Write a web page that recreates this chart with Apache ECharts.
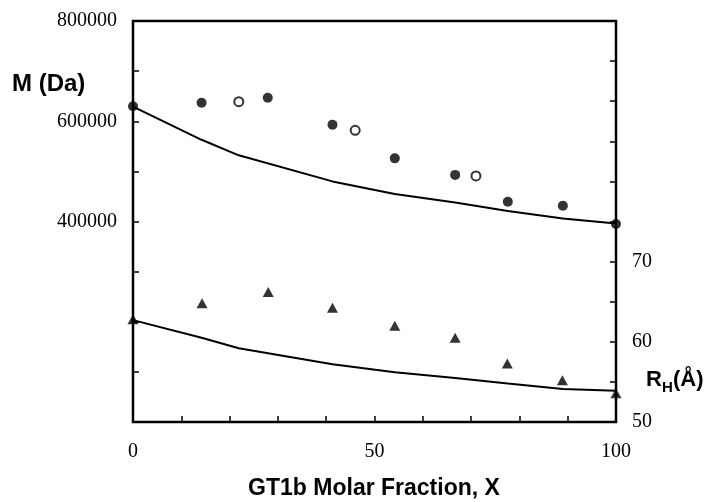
<!DOCTYPE html>
<html>
<head>
<meta charset="utf-8">
<script src="https://cdn.jsdelivr.net/npm/echarts@6/dist/echarts.min.js"></script>
<style>html,body{margin:0;padding:0;background:#fff;}#c{width:712px;height:502px;}</style>
</head>
<body>
<div id="c"></div>
<script>
// Molecular mass M (Da): filled circles
const xMFilled = [0, 14.2, 27.9, 41.3, 54.2, 66.7, 77.6, 89.0, 100];
const mFilled = [630000, 637000, 647000, 593000, 526000, 493000, 439500, 431500, 395000];
// Molecular mass M (Da): open circles
const xMOpen = [21.9, 46.0, 71.0];
const mOpen = [639000, 582000, 491000];
// M curve
const xCurve = [0, 14.2, 21.9, 41.3, 54.2, 66.7, 77.6, 89.0, 100];
const mCurve = [629000, 563000, 532000, 480000, 455000, 438000, 421000, 406000, 396000];
// Hydrodynamic radius RH (Å): triangles
const xRh = [0, 14.3, 28.0, 41.3, 54.2, 66.7, 77.5, 88.9, 100];
const rhVals = [62.8, 64.8, 66.2, 64.25, 62.0, 60.5, 57.3, 55.2, 53.6];
// RH curve
const rhCurve = [62.7, 60.5, 59.2, 57.2, 56.2, 55.5, 54.8, 54.1, 53.9];
// tick labels shown
const xTickLabels = [0, 50, 100];
const leftTickLabels = [400000, 600000, 800000];
const rightTickLabels = [50, 60, 70];

const pairs = (xs, ys) => xs.map((x, i) => [x, ys[i]]);
const serif = 'Liberation Serif';
const sans = 'Liberation Sans';
const tickStyle = { show: true, inside: true, length: 6, lineStyle: { color: '#000', width: 1.5 } };

const chart = echarts.init(document.getElementById('c'), null, { renderer: 'canvas' });
chart.setOption({
  animation: false,
  backgroundColor: '#fff',
  grid: { left: 133, right: 96, top: 21, bottom: 80, show: true, borderColor: '#000', borderWidth: 2.5, backgroundColor: 'transparent' },
  xAxis: {
    type: 'value', min: 0, max: 100, interval: 10,
    axisLine: { show: false }, splitLine: { show: false },
    axisTick: tickStyle,
    axisLabel: { margin: 20, fontFamily: serif, fontSize: 20, color: '#000',
      formatter: v => xTickLabels.includes(v) ? String(v) : '' }
  },
  yAxis: [{
    type: 'value', min: 0, max: 800000, interval: 100000, position: 'left',
    axisLine: { show: false }, splitLine: { show: false },
    axisTick: tickStyle,
    axisLabel: { margin: 16, fontFamily: serif, fontSize: 20, color: '#000',
      formatter: v => leftTickLabels.includes(v) ? String(v) : '' }
  }, {
    type: 'value', min: 50, max: 100, interval: 5, position: 'right',
    axisLine: { show: false }, splitLine: { show: false },
    axisTick: tickStyle,
    axisLabel: { margin: 16, fontFamily: serif, fontSize: 20, color: '#000',
      formatter: v => rightTickLabels.includes(v) ? String(v) : '' }
  }],
  series: [
    { type: 'line', yAxisIndex: 0, data: pairs(xCurve, mCurve), showSymbol: false, symbol: 'none', clip: false,
      lineStyle: { color: '#000', width: 2 } },
    { type: 'line', yAxisIndex: 1, data: pairs(xCurve, rhCurve), showSymbol: false, symbol: 'none', clip: false,
      lineStyle: { color: '#000', width: 2 } },
    { type: 'scatter', yAxisIndex: 0, data: pairs(xMFilled, mFilled), symbol: 'circle', symbolSize: 10, clip: false,
      itemStyle: { color: '#000' }, z: 5 },
    { type: 'scatter', yAxisIndex: 0, data: pairs(xMOpen, mOpen), symbol: 'circle', symbolSize: 9, clip: false,
      itemStyle: { color: '#fff', borderColor: '#000', borderWidth: 2 }, z: 5 },
    { type: 'scatter', yAxisIndex: 1, data: pairs(xRh, rhVals), symbol: 'triangle', symbolSize: [11, 10], clip: false,
      itemStyle: { color: '#000' }, z: 5 }
  ],
  graphic: [
    { type: 'text', left: 12, top: 72, style: { text: 'M (Da)', font: 'bold 24px "Liberation Sans"', fill: '#000' } },
    { type: 'text', x: 374, y: 477, style: { text: 'GT1b Molar Fraction, X', font: 'bold 23px "Liberation Sans"', fill: '#000', textAlign: 'center', textVerticalAlign: 'top' } },
    { type: 'text', x: 646, y: 369, style: { text: 'R', font: 'bold 22px "Liberation Sans"', fill: '#000', textVerticalAlign: 'top' } },
    { type: 'text', x: 662, y: 380, style: { text: 'H', font: 'bold 15px "Liberation Sans"', fill: '#000', textVerticalAlign: 'top' } },
    { type: 'text', x: 673, y: 369, style: { text: '(Å)', font: 'bold 22px "Liberation Sans"', fill: '#000', textVerticalAlign: 'top' } }
  ]
});
</script>
</body>
</html>
